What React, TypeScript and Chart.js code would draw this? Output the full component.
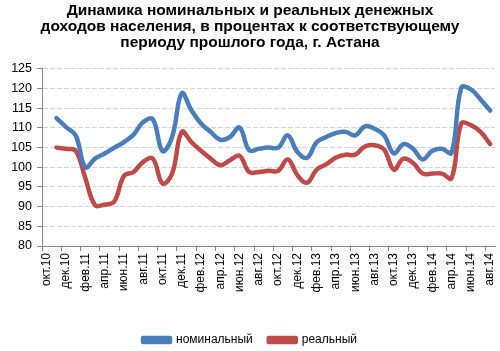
import React, { useEffect, useRef } from "react";
import { Chart, registerables } from "chart.js";

Chart.register(...registerables);

const months: string[] = [
  "окт.10", "ноя.10", "дек.10", "янв.11", "фев.11", "мар.11", "апр.11", "май.11", "июн.11", "июл.11", "авг.11", "сен.11",
  "окт.11", "ноя.11", "дек.11", "янв.12", "фев.12", "мар.12", "апр.12", "май.12", "июн.12", "июл.12", "авг.12", "сен.12",
  "окт.12", "ноя.12", "дек.12", "янв.13", "фев.13", "мар.13", "апр.13", "май.13", "июн.13", "июл.13", "авг.13", "сен.13",
  "окт.13", "ноя.13", "дек.13", "янв.14", "фев.14", "мар.14", "апр.14", "май.14", "июн.14", "июл.14", "авг.14",
];

const nominal: (number | null)[] = [
  null, 112.5, 110.2, 108.1, 100, 102.2, 103.5, 105, 106.4, 108.3, 111.5, 112.2,
  104.1, 107.7, 118.8, 114.5, 111.1, 109, 107, 107.7, 110.1, 104.3, 104.7, 105,
  105, 108.1, 103.9, 102.4, 106.4, 107.7, 108.7, 109, 108.1, 110.4, 109.8, 108.1,
  103.5, 105.9, 104.7, 102, 104.2, 104.7, 103.7, 120.2, 119.8, 117.2, 114.4,
];

const real: (number | null)[] = [
  null, 105, 104.7, 104.2, 97.2, 90.4, 90.5, 91.3, 97.8, 98.8, 101.4, 102.2,
  95.9, 98.4, 109, 106.4, 104.2, 102.2, 100.5, 101.8, 102.9, 98.8, 98.8, 99.1,
  99.1, 102, 98, 96.1, 99.4, 100.8, 102.5, 103.2, 103.2, 105.3, 105.6, 104.5,
  99.4, 102.2, 101.1, 98.4, 98.4, 98.4, 97.2, 111.1, 110.7, 109, 105.9,
];

const titleLines: string[] = [
  "Динамика номинальных и реальных денежных",
  "доходов населения, в процентах к соответствующему",
  "периоду прошлого года, г. Астана",
];

const seriesNames: string[] = ["номинальный", "реальный"];
const yMin = 80;
const yMax = 125;
const yStep = 5;

const FONT = "'Liberation Sans', Arial, sans-serif";

export default function App() {
  const ref = useRef<HTMLCanvasElement | null>(null);

  useEffect(() => {
    if (!ref.current) return;
    const chart = new Chart(ref.current, {
      type: "line",
      data: {
        labels: months,
        datasets: [
          {
            label: seriesNames[0],
            data: nominal,
            borderColor: "#4A7EBB",
            backgroundColor: "#4A7EBB",
            borderWidth: 4.5,
            pointRadius: 0,
            tension: 0.4,
            borderCapStyle: "round",
            borderJoinStyle: "round",
          },
          {
            label: seriesNames[1],
            data: real,
            borderColor: "#BE4B48",
            backgroundColor: "#BE4B48",
            borderWidth: 4.5,
            pointRadius: 0,
            tension: 0.4,
            borderCapStyle: "round",
            borderJoinStyle: "round",
          },
        ],
      },
      options: {
        responsive: false,
        animation: false,
        layout: { padding: { left: 0, right: 0, top: 0, bottom: -5 } },
        plugins: {
          title: {
            display: true,
            text: titleLines,
            color: "#000",
            font: { family: FONT, size: 15.5, weight: "bold", lineHeight: 1.03 },
            padding: { top: 3, bottom: 18 },
          },
          legend: {
            position: "bottom",
            labels: {
              color: "#000",
              font: { family: FONT, size: 12 },
              boxWidth: 27,
              boxHeight: 4,
              padding: 16,
            },
          },
          tooltip: { enabled: false },
        },
        scales: {
          x: {
            type: "category",
            offset: true,
            border: { color: "#868686", width: 1 },
            grid: {
              offset: true,
              drawOnChartArea: false,
              drawTicks: true,
              tickLength: 5,
              color: (ctx: any) => (ctx.index % 2 === 0 ? "#868686" : "rgba(0,0,0,0)"),
            },
            ticks: {
              autoSkip: false,
              maxRotation: 90,
              minRotation: 90,
              padding: 2,
              color: "#000",
              font: { family: FONT, size: 12 },
              callback: (_v: any, i: number) => (i % 2 === 0 ? months[i] : ""),
            },
            afterFit: (scale: any) => {
              scale.height = 72;
              scale.paddingRight = 5;
              scale.paddingLeft = 0;
            },
          },
          y: {
            min: yMin,
            max: yMax,
            border: { color: "#868686", width: 1, dash: [5, 2] },
            grid: {
              color: "#D4D4D4",
              tickColor: "#868686",
              tickBorderDash: [],
              tickLength: 5,
            },
            ticks: {
              stepSize: yStep,
              padding: 5,
              color: "#000",
              font: { family: FONT, size: 12.5 },
            },
            afterFit: (scale: any) => {
              scale.width = 42;
            },
          },
        },
      },
    });
    return () => chart.destroy();
  }, []);

  return (
    <div style={{ position: "fixed", left: 0, top: 0, width: 500, height: 351, background: "#fff", overflow: "hidden" }}>
      <canvas ref={ref} width={500} height={351} style={{ width: 500, height: 351 }} />
    </div>
  );
}
